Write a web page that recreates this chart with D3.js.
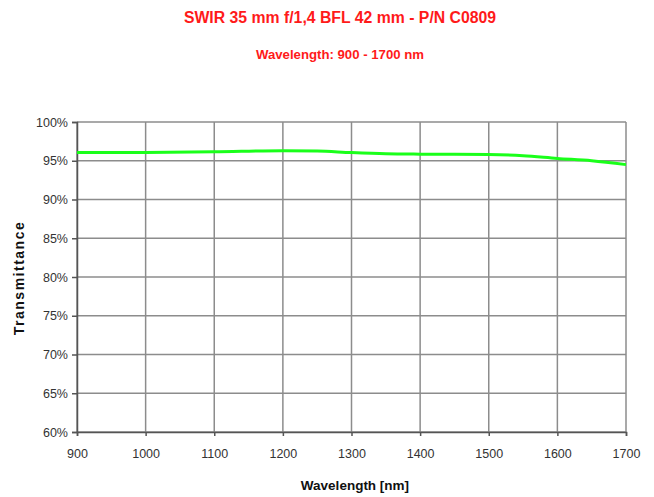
<!DOCTYPE html>
<html>
<head>
<meta charset="utf-8">
<script src="https://cdn.jsdelivr.net/npm/d3@7"></script>
<style>
  body { margin: 0; background: #fff; }
  svg { font-family: "Liberation Sans", Arial, sans-serif; }
</style>
</head>
<body>
<div id="chart"></div>
<script>
// transmittance curve
const wavelengths = [900, 1000, 1100, 1200, 1250, 1300, 1350, 1400, 1450, 1500, 1550, 1600, 1650, 1700];
const transmittance = [96.05, 96.07, 96.15, 96.3, 96.25, 96.05, 95.9, 95.85, 95.83, 95.8, 95.65, 95.3, 95.0, 94.5];
const xTicks = [900, 1000, 1100, 1200, 1300, 1400, 1500, 1600, 1700];
const yTicks = [60, 65, 70, 75, 80, 85, 90, 95, 100];

const width = 654, height = 497;
const margin = { top: 122, right: 28, bottom: 65, left: 77 };

const svg = d3.select("#chart")
    .append("svg")
    .attr("width", width)
    .attr("height", height);

const x = d3.scaleLinear().domain([900, 1700]).range([margin.left, width - margin.right]);
const y = d3.scaleLinear().domain([60, 100]).range([height - margin.bottom, margin.top]);

// titles
svg.append("text")
    .attr("x", 340).attr("y", 23)
    .attr("text-anchor", "middle")
    .attr("fill", "#ff1a1a")
    .attr("font-size", 15.8)
    .attr("font-weight", "bold")
    .text("SWIR 35 mm f/1,4 BFL 42 mm - P/N C0809");

svg.append("text")
    .attr("x", 340).attr("y", 59)
    .attr("text-anchor", "middle")
    .attr("fill", "#ff1a1a")
    .attr("font-size", 13.2)
    .attr("font-weight", "bold")
    .text("Wavelength: 900 - 1700 nm");

// grid
svg.append("g")
    .selectAll("line.v")
    .data(xTicks)
    .enter()
    .append("line")
    .attr("x1", d => x(d)).attr("x2", d => x(d))
    .attr("y1", y(100)).attr("y2", y(60))
    .attr("stroke", "#8c8c8c")
    .attr("stroke-width", 1.5);

svg.append("g")
    .selectAll("line.h")
    .data(yTicks)
    .enter()
    .append("line")
    .attr("x1", x(900)).attr("x2", x(1700))
    .attr("y1", d => y(d)).attr("y2", d => y(d))
    .attr("stroke", "#8c8c8c")
    .attr("stroke-width", 1.5);

// axes
const xAxis = svg.append("g")
    .attr("transform", `translate(0,${y(60)})`)
    .call(d3.axisBottom(x).tickValues(xTicks).tickSize(4).tickPadding(13).tickFormat(d3.format("d")));
const yAxis = svg.append("g")
    .attr("transform", `translate(${x(900)},0)`)
    .call(d3.axisLeft(y).tickValues(yTicks).tickSize(5).tickPadding(4).tickFormat(d => d + "%"));

[xAxis, yAxis].forEach(a => {
    a.select(".domain").attr("stroke", "#555").attr("stroke-width", 1.5);
    a.selectAll(".tick line").attr("stroke", "#555").attr("stroke-width", 1.5);
    a.selectAll("text").attr("fill", "#333").attr("font-size", 12.5)
        .attr("font-family", "'Liberation Sans', Arial, sans-serif");
});

// curve
const line = d3.line()
    .x((d, i) => x(wavelengths[i]))
    .y(d => y(d))
    .curve(d3.curveMonotoneX);

svg.append("path")
    .datum(transmittance)
    .attr("d", line)
    .attr("fill", "none")
    .attr("stroke", "#1aff1a")
    .attr("stroke-width", 3);

// axis titles
svg.append("text")
    .attr("x", 355).attr("y", 490)
    .attr("text-anchor", "middle")
    .attr("font-size", 13.5)
    .attr("font-weight", "bold")
    .attr("fill", "#111")
    .text("Wavelength [nm]");

svg.append("text")
    .attr("transform", "translate(24,278) rotate(-90)")
    .attr("text-anchor", "middle")
    .attr("font-size", 14)
    .attr("font-weight", "bold")
    .attr("letter-spacing", 1.5)
    .attr("fill", "#111")
    .text("Transmittance");
</script>
</body>
</html>
